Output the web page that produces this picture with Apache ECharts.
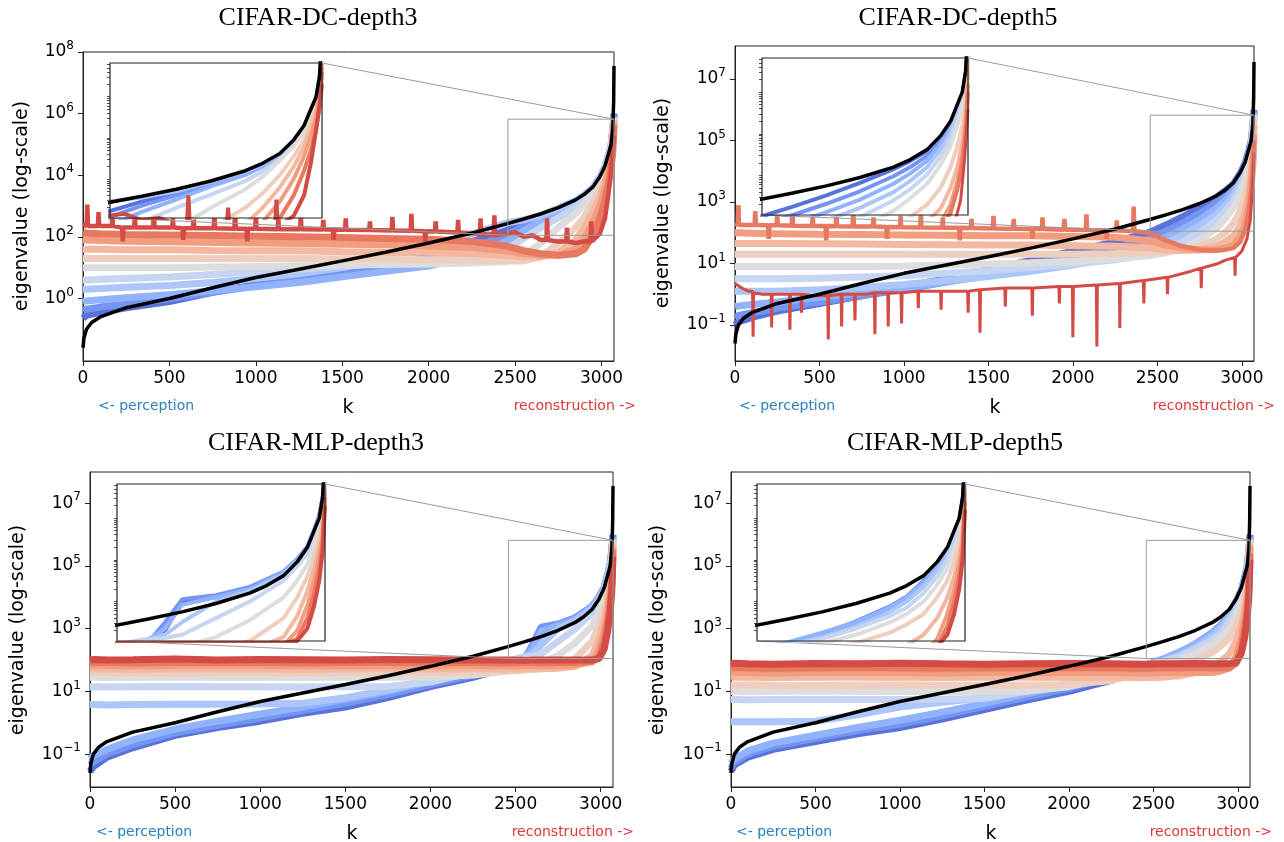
<!DOCTYPE html>
<html>
<head>
<meta charset="utf-8">
<script src="https://cdn.jsdelivr.net/npm/echarts@6/dist/echarts.min.js"></script>
<style>
  html, body { margin: 0; padding: 0; background: #fff; }
  #chart { width: 1284px; height: 842px; }
</style>
</head>
<body>
<div id="chart"></div>
<script>
// y values are log10(eigenvalue)
const titles = ['CIFAR-DC-depth3', 'CIFAR-DC-depth5', 'CIFAR-MLP-depth3', 'CIFAR-MLP-depth5'];
const xTicks = [0, 500, 1000, 1500, 2000, 2500, 3000];
const yTicksEven = [0, 2, 4, 6, 8];
const yTicksOdd = [-1, 1, 3, 5, 7];
// coolwarm, blue (early) -> red (late)
const curveColors = ['#5a72dc', '#7495f2', '#91b2fc', '#acc6f9', '#c6d5f1', '#dddddd',
                     '#eecebe', '#f3b89f', '#f39d7f', '#e77960', '#d44b45'];

const blackK   = [0, 5, 20, 50, 100, 250, 500, 750, 1000, 1250, 1500, 1750, 2000, 2250, 2450, 2550, 2650, 2750, 2850, 2900, 2950, 2990, 3020, 3040, 3055, 3065, 3070, 3072];
const blackLog = [-1.6, -1.3, -1.0, -0.78, -0.6, -0.3, 0.0, 0.35, 0.68, 0.95, 1.22, 1.5, 1.8, 2.12, 2.42, 2.58, 2.75, 2.95, 3.2, 3.38, 3.62, 3.95, 4.3, 4.7, 5.0, 5.5, 6.4, 7.55];

const kGrid     = [0, 20, 100, 250, 500, 750, 1000, 1250, 1500, 1750, 2000, 2250, 2450, 2550, 2650, 2750, 2850, 2900, 2950, 2990, 3020, 3040, 3055, 3065, 3072];
const kGridMlp3 = [0, 20, 100, 250, 500, 750, 1000, 1250, 1500, 1750, 2000, 2250, 2450, 2550, 2600, 2650, 2750, 2850, 2950, 2990, 3020, 3040, 3055, 3065, 3072];

const dc3Log = [
  [-0.65, -0.55, -0.45, -0.3, -0.1, 0.2, 0.45, 0.7, 0.95, 1.2, 1.5, 1.85, 2.2, 2.45, 2.65, 2.9, 3.15, 3.35, 3.58, 3.92, 4.27, 4.65, 4.95, 5.45, 6.0],
  [-0.4, -0.35, -0.28, -0.18, 0.0, 0.2, 0.4, 0.6, 0.8, 1.05, 1.3, 1.65, 2.05, 2.35, 2.6, 2.87, 3.13, 3.33, 3.57, 3.9, 4.25, 4.63, 4.95, 5.45, 5.95],
  [-0.1, -0.08, -0.04, 0.02, 0.12, 0.25, 0.38, 0.52, 0.7, 0.88, 1.05, 1.4, 1.85, 2.2, 2.5, 2.82, 3.1, 3.3, 3.55, 3.88, 4.22, 4.6, 4.93, 5.42, 5.9],
  [0.3, 0.3, 0.32, 0.36, 0.42, 0.52, 0.65, 0.8, 1.0, 1.25, 1.6, 2.1, 2.45, 2.55, 2.7, 2.93, 3.18, 3.36, 3.6, 3.93, 4.28, 4.66, 4.97, 5.48, 5.9],
  [0.6, 0.6, 0.62, 0.65, 0.7, 0.78, 0.86, 0.95, 1.05, 1.15, 1.25, 1.4, 1.6, 1.95, 2.3, 2.62, 2.95, 3.18, 3.48, 3.85, 4.2, 4.58, 4.92, 5.4, 5.85],
  [1.0, 1.0, 1.0, 1.0, 1.0, 1.02, 1.04, 1.06, 1.08, 1.1, 1.12, 1.15, 1.2, 1.4, 1.8, 2.3, 2.75, 3.05, 3.45, 3.8, 4.15, 4.53, 4.88, 5.35, 5.85],
  [1.3, 1.3, 1.3, 1.3, 1.3, 1.3, 1.3, 1.3, 1.28, 1.28, 1.26, 1.25, 1.22, 1.22, 1.35, 1.8, 2.3, 2.65, 3.1, 3.55, 3.95, 4.4, 4.8, 5.25, 5.8],
  [1.6, 1.6, 1.6, 1.58, 1.58, 1.56, 1.55, 1.55, 1.52, 1.5, 1.5, 1.46, 1.4, 1.35, 1.35, 1.5, 1.9, 2.3, 2.8, 3.3, 3.78, 4.25, 4.65, 5.15, 5.8],
  [1.9, 1.9, 1.88, 1.86, 1.84, 1.82, 1.8, 1.78, 1.76, 1.74, 1.7, 1.65, 1.55, 1.45, 1.4, 1.4, 1.6, 1.95, 2.45, 3.0, 3.55, 4.05, 4.5, 5.0, 5.7],
  [2.15, 2.12, 2.1, 2.08, 2.06, 2.04, 2.02, 2.0, 1.98, 1.95, 1.92, 1.85, 1.7, 1.55, 1.45, 1.4, 1.45, 1.6, 2.05, 2.6, 3.2, 3.7, 4.2, 4.75, 5.6]
];
// top (darkest red) run of DC-depth3: a band with narrow spikes
const dc3RedK = [0,
  21, 25, 29, 86, 90, 94, 166, 170, 174, 226, 230, 234, 296, 300, 304, 406, 410, 414, 516, 520, 524,
  576, 580, 584, 636, 640, 644, 756, 760, 764, 876, 880, 884, 946, 950, 954, 996, 1000, 1004,
  1126, 1130, 1134, 1256, 1260, 1264, 1386, 1390, 1394, 1446, 1450, 1454, 1516, 1520, 1524,
  1656, 1660, 1664, 1786, 1790, 1794, 1896, 1900, 1904, 1976, 1980, 1984, 2036, 2040, 2044,
  2166, 2170, 2174, 2296, 2300, 2304, 2376, 2380, 2384,
  2450, 2500, 2550, 2600, 2650, 2681, 2685, 2689, 2750, 2796, 2800, 2804, 2850, 2900, 2936, 2940, 2944,
  2990, 3020, 3040, 3055, 3065, 3072];
const dc3RedLog = [2.4,
  2.35, 3.05, 2.35, 2.35, 2.8, 2.35, 2.35, 2.65, 2.35, 2.3, 1.85, 2.3, 2.3, 2.75, 2.3, 2.3, 2.85, 2.3, 2.3, 2.6, 2.3,
  2.28, 1.9, 2.28, 2.28, 2.7, 2.28, 2.28, 2.75, 2.28, 2.26, 2.9, 2.26, 2.26, 1.85, 2.26, 2.26, 2.8, 2.26,
  2.25, 2.6, 2.25, 2.25, 2.7, 2.25, 2.24, 2.55, 2.24, 2.24, 1.9, 2.24, 2.23, 2.6, 2.23,
  2.22, 2.5, 2.22, 2.21, 2.65, 2.21, 2.2, 2.75, 2.2, 2.18, 1.85, 2.18, 2.17, 2.5, 2.17,
  2.14, 2.55, 2.14, 2.1, 2.6, 2.1, 2.05, 2.7, 2.05,
  2.1, 2.15, 2.0, 2.05, 1.9, 1.9, 2.6, 1.9, 1.85, 1.85, 2.3, 1.85, 1.8, 1.85, 1.85, 2.5, 1.85,
  2.1, 2.6, 3.4, 4.2, 4.8, 5.3];

const dc5Log = [
  [-1.0, -0.9, -0.75, -0.55, -0.3, -0.05, 0.25, 0.5, 0.8, 1.1, 1.4, 1.7, 2.0, 2.25, 2.52, 2.82, 3.15, 3.35, 3.58, 3.92, 4.27, 4.65, 4.95, 5.45, 6.0],
  [-0.75, -0.7, -0.6, -0.45, -0.25, -0.05, 0.15, 0.4, 0.65, 0.9, 1.2, 1.5, 1.8, 2.05, 2.32, 2.62, 2.98, 3.2, 3.47, 3.85, 4.2, 4.6, 4.93, 5.42, 5.95],
  [-0.4, -0.38, -0.33, -0.25, -0.1, 0.05, 0.2, 0.4, 0.6, 0.82, 1.05, 1.35, 1.62, 1.85, 2.12, 2.42, 2.8, 3.05, 3.35, 3.75, 4.12, 4.55, 4.9, 5.4, 5.9],
  [0.1, 0.1, 0.1, 0.1, 0.15, 0.22, 0.32, 0.45, 0.58, 0.75, 0.95, 1.2, 1.45, 1.65, 1.92, 2.22, 2.6, 2.87, 3.2, 3.62, 4.02, 4.47, 4.85, 5.35, 5.85],
  [0.5, 0.5, 0.5, 0.5, 0.52, 0.56, 0.6, 0.68, 0.76, 0.86, 0.98, 1.12, 1.3, 1.45, 1.7, 2.0, 2.4, 2.67, 3.02, 3.45, 3.88, 4.35, 4.75, 5.25, 5.85],
  [0.9, 0.9, 0.9, 0.9, 0.9, 0.9, 0.92, 0.95, 0.98, 1.02, 1.07, 1.15, 1.25, 1.35, 1.5, 1.75, 2.15, 2.45, 2.8, 3.25, 3.7, 4.2, 4.62, 5.15, 5.8],
  [1.3, 1.3, 1.3, 1.3, 1.3, 1.3, 1.3, 1.3, 1.3, 1.3, 1.3, 1.32, 1.35, 1.38, 1.45, 1.55, 1.8, 2.0, 2.3, 2.7, 3.2, 3.7, 4.2, 4.8, 5.7],
  [1.65, 1.65, 1.65, 1.65, 1.64, 1.63, 1.62, 1.61, 1.6, 1.6, 1.58, 1.56, 1.5, 1.45, 1.42, 1.45, 1.55, 1.7, 1.9, 2.2, 2.7, 3.2, 3.8, 4.45, 5.5],
  [2.0, 2.0, 1.98, 1.97, 1.95, 1.94, 1.93, 1.92, 1.9, 1.9, 1.88, 1.85, 1.75, 1.6, 1.5, 1.45, 1.45, 1.5, 1.6, 1.85, 2.3, 2.85, 3.5, 4.2, 5.2]
];
// noisy top band of DC-depth5
const dc5TopK = [0,
  16, 20, 24, 116, 120, 124, 196, 200, 204, 246, 250, 254, 336, 340, 344, 456, 460, 464, 536, 540, 544,
  596, 600, 604, 696, 700, 704, 816, 820, 824, 896, 900, 904, 976, 980, 984, 1096, 1100, 1104,
  1226, 1230, 1234, 1326, 1330, 1334, 1396, 1400, 1404, 1526, 1530, 1534, 1646, 1650, 1654,
  1756, 1760, 1764, 1816, 1820, 1824, 1946, 1950, 1954, 2076, 2080, 2084, 2196, 2200, 2204,
  2256, 2260, 2264, 2356, 2360, 2364,
  2450, 2550, 2650, 2750, 2850, 2900, 2950, 2990, 3020, 3040, 3055, 3065, 3072];
const dc5TopLog = [2.3,
  2.25, 2.9, 2.25, 2.25, 2.7, 2.25, 2.24, 1.8, 2.24, 2.24, 2.6, 2.24, 2.23, 2.75, 2.23, 2.22, 2.55, 2.22, 2.22, 1.75, 2.22,
  2.21, 2.65, 2.21, 2.2, 2.75, 2.2, 2.2, 2.5, 2.2, 2.19, 1.8, 2.19, 2.18, 2.55, 2.18, 2.17, 2.6, 2.17,
  2.16, 2.5, 2.16, 2.16, 1.75, 2.16, 2.15, 2.45, 2.15, 2.14, 2.55, 2.14, 2.13, 2.45, 2.13,
  2.12, 1.8, 2.12, 2.12, 2.5, 2.12, 2.1, 2.45, 2.1, 2.09, 2.6, 2.09, 2.08, 1.8, 2.08,
  2.07, 2.4, 2.07, 2.05, 2.85, 2.05,
  2.0, 1.75, 1.55, 1.45, 1.42, 1.45, 1.5, 1.7, 2.1, 2.65, 3.3, 4.0, 5.0];
// darkest red run of DC-depth5 sits low, with deep downward spikes
const dc5RedK = [0, 40, 80, 104, 107, 110, 160, 214, 217, 220, 280, 322, 325, 328, 391, 394, 397, 460, 549, 552, 555, 628, 631, 634, 707, 710, 713, 780, 825, 828, 831, 904, 907, 910, 983, 986, 989, 1082, 1085, 1088, 1217, 1220, 1223, 1377, 1380, 1383, 1447, 1450, 1453, 1597, 1600, 1603, 1757, 1760, 1763, 1917, 1920, 1923, 1997, 2000, 2003, 2139, 2142, 2145, 2275, 2278, 2281, 2417, 2420, 2423, 2557, 2560, 2563, 2700, 2757, 2760, 2763, 2860, 2900, 2957, 2960, 2963, 3000, 3030, 3050, 3062, 3072];
const dc5RedLog = [0.35, 0.2, 0.1, 0.1, -1.38, 0.05, 0.0, 0.0, -1.08, 0.0, 0.0, 0.0, -1.15, 0.0, 0.0, -0.6, 0.0, -0.05, -0.05, -1.47, -0.05, 0.0, -1.05, 0.0, 0.0, -0.85, 0.0, 0.0, 0.05, -1.3, 0.05, 0.05, -1.05, 0.05, 0.05, -0.95, 0.05, 0.1, -0.45, 0.1, 0.1, -0.5, 0.1, 0.1, -0.6, 0.1, 0.15, -1.25, 0.15, 0.2, -0.4, 0.2, 0.2, -0.7, 0.2, 0.25, -0.3, 0.25, 0.25, -1.4, 0.25, 0.3, -1.7, 0.3, 0.35, -1.1, 0.35, 0.45, -0.3, 0.45, 0.55, 0.0, 0.55, 0.75, 0.85, 0.2, 0.85, 1.0, 1.1, 1.2, 0.6, 1.2, 1.4, 1.8, 2.4, 3.4, 4.6];

const mlp3Log = [
  [-1.55, -1.4, -1.1, -0.8, -0.4, -0.15, 0.05, 0.3, 0.5, 0.8, 1.15, 1.45, 1.75, 1.95, 2.3, 3.0, 3.1, 3.3, 3.7, 4.0, 4.3, 4.7, 5.05, 5.5, 6.0],
  [-1.35, -1.25, -1.0, -0.7, -0.32, -0.08, 0.15, 0.4, 0.62, 0.9, 1.22, 1.52, 1.82, 2.02, 2.5, 3.05, 3.15, 3.35, 3.72, 4.02, 4.32, 4.72, 5.05, 5.5, 5.95],
  [-1.15, -1.05, -0.85, -0.55, -0.2, 0.05, 0.28, 0.5, 0.75, 1.0, 1.32, 1.62, 1.9, 2.08, 2.35, 2.92, 3.1, 3.3, 3.7, 4.0, 4.3, 4.7, 5.0, 5.45, 5.9],
  [0.58, 0.58, 0.57, 0.58, 0.59, 0.59, 0.6, 0.62, 0.8, 1.05, 1.38, 1.7, 1.96, 2.1, 2.2, 2.5, 3.0, 3.25, 3.65, 3.95, 4.25, 4.65, 5.0, 5.4, 5.85],
  [1.15, 1.15, 1.14, 1.15, 1.16, 1.15, 1.15, 1.14, 1.15, 1.16, 1.3, 1.62, 1.95, 2.08, 2.12, 2.2, 2.6, 3.0, 3.5, 3.85, 4.15, 4.55, 4.9, 5.3, 5.85],
  [1.45, 1.45, 1.44, 1.45, 1.46, 1.45, 1.45, 1.44, 1.45, 1.45, 1.46, 1.52, 1.65, 1.8, 1.85, 1.9, 2.15, 2.55, 3.1, 3.5, 3.9, 4.35, 4.75, 5.2, 5.8],
  [1.6, 1.6, 1.61, 1.6, 1.59, 1.6, 1.61, 1.6, 1.6, 1.59, 1.6, 1.61, 1.64, 1.68, 1.7, 1.72, 1.82, 2.05, 2.6, 3.1, 3.6, 4.1, 4.55, 5.0, 5.8],
  [1.72, 1.73, 1.72, 1.71, 1.72, 1.73, 1.72, 1.71, 1.72, 1.72, 1.73, 1.72, 1.71, 1.72, 1.72, 1.72, 1.74, 1.8, 2.15, 2.65, 3.25, 3.8, 4.3, 4.8, 5.7],
  [1.82, 1.83, 1.82, 1.81, 1.82, 1.83, 1.82, 1.82, 1.81, 1.82, 1.83, 1.82, 1.81, 1.82, 1.82, 1.82, 1.82, 1.84, 1.95, 2.3, 2.9, 3.5, 4.1, 4.6, 5.6],
  [1.92, 1.93, 1.92, 1.91, 1.92, 1.93, 1.92, 1.91, 1.92, 1.92, 1.93, 1.92, 1.91, 1.92, 1.92, 1.91, 1.92, 1.92, 1.95, 2.1, 2.6, 3.2, 3.8, 4.4, 5.5],
  [2.0, 2.02, 2.0, 2.01, 2.03, 2.0, 2.02, 2.01, 2.0, 2.02, 2.01, 2.0, 2.0, 1.99, 2.0, 2.0, 2.0, 2.0, 2.0, 2.05, 2.35, 2.9, 3.5, 4.2, 5.3]
];

const mlp5Log = [
  [-1.55, -1.35, -1.1, -0.85, -0.6, -0.35, -0.15, 0.12, 0.42, 0.72, 1.0, 1.35, 1.7, 1.9, 2.15, 2.45, 2.8, 3.05, 3.45, 3.85, 4.2, 4.6, 4.95, 5.45, 6.0],
  [-1.45, -1.25, -1.0, -0.75, -0.5, -0.25, -0.05, 0.22, 0.52, 0.82, 1.1, 1.45, 1.78, 1.98, 2.22, 2.52, 2.88, 3.12, 3.5, 3.88, 4.22, 4.62, 4.95, 5.45, 5.95],
  [-1.3, -1.15, -0.9, -0.65, -0.4, -0.15, 0.08, 0.34, 0.62, 0.92, 1.2, 1.5, 1.84, 2.02, 2.25, 2.5, 2.85, 3.1, 3.45, 3.85, 4.2, 4.6, 4.95, 5.42, 5.9],
  [0.03, 0.03, 0.03, 0.03, 0.05, 0.25, 0.5, 0.65, 0.8, 1.0, 1.25, 1.52, 1.8, 1.95, 2.15, 2.4, 2.75, 3.0, 3.35, 3.75, 4.1, 4.5, 4.9, 5.35, 5.85],
  [0.74, 0.74, 0.73, 0.74, 0.75, 0.74, 0.74, 0.75, 0.78, 1.0, 1.25, 1.55, 1.8, 1.95, 2.1, 2.35, 2.65, 2.85, 3.2, 3.6, 4.0, 4.4, 4.8, 5.25, 5.85],
  [1.0, 1.0, 0.99, 1.0, 1.01, 1.0, 1.0, 0.99, 1.0, 1.01, 1.15, 1.45, 1.7, 1.85, 2.0, 2.2, 2.5, 2.7, 3.0, 3.4, 3.8, 4.2, 4.6, 5.1, 5.8],
  [1.2, 1.2, 1.21, 1.2, 1.19, 1.2, 1.21, 1.2, 1.2, 1.2, 1.22, 1.35, 1.6, 1.7, 1.85, 2.0, 2.25, 2.45, 2.7, 3.1, 3.5, 3.95, 4.4, 4.9, 5.8],
  [1.45, 1.46, 1.45, 1.44, 1.45, 1.46, 1.45, 1.44, 1.45, 1.45, 1.46, 1.45, 1.44, 1.45, 1.5, 1.6, 1.8, 1.95, 2.2, 2.6, 3.1, 3.6, 4.1, 4.6, 5.7],
  [1.6, 1.61, 1.6, 1.59, 1.6, 1.61, 1.6, 1.59, 1.6, 1.6, 1.61, 1.6, 1.59, 1.6, 1.6, 1.61, 1.6, 1.65, 1.75, 2.1, 2.7, 3.3, 3.9, 4.4, 5.6],
  [1.75, 1.76, 1.75, 1.74, 1.75, 1.76, 1.75, 1.74, 1.75, 1.75, 1.76, 1.75, 1.74, 1.75, 1.75, 1.76, 1.75, 1.75, 1.75, 1.9, 2.4, 3.0, 3.6, 4.2, 5.4],
  [1.88, 1.9, 1.88, 1.87, 1.89, 1.88, 1.9, 1.88, 1.87, 1.88, 1.89, 1.88, 1.87, 1.88, 1.88, 1.89, 1.88, 1.88, 1.88, 1.92, 2.2, 2.7, 3.3, 4.0, 5.2]
];

// zoomed region shown in each inset: k range and log10 range
const zoomK = [2458, 3072];
const zoomLog = [2.05, 5.82];

// ---- layout (pixels) ----
const layout = [
  { main: [83, 52, 614, 361],   inset: [110, 63, 322, 218], yRange: [-2.03, 8.0],  yTicks: yTicksEven, title: [318, 18],  ylab: [22, 206],  klab: [348, 408], perc: [98, 406],  recon: [636, 406] },
  { main: [735, 46, 1254, 361], inset: [762, 58, 968, 215], yRange: [-2.17, 8.07], yTicks: yTicksOdd,  title: [958, 18],  ylab: [663, 203], klab: [995, 408], perc: [739, 406], recon: [1275, 406] },
  { main: [90, 472, 613, 787],  inset: [117, 484, 325, 641], yRange: [-2.05, 8.0], yTicks: yTicksOdd,  title: [316, 443], ylab: [18, 630],  klab: [352, 834], perc: [96, 832],  recon: [634, 832] },
  { main: [731, 472, 1250, 787], inset: [757, 484, 965, 641], yRange: [-2.05, 8.0], yTicks: yTicksOdd, title: [955, 443], ylab: [658, 630], klab: [991, 834], perc: [736, 832], recon: [1272, 832] }
];

function onGrid(ks, list) { return list.map(v => ({ k: ks, v, w: 7 })); }
const panelCurves = [
  onGrid(kGrid, dc3Log).concat([{ k: dc3RedK, v: dc3RedLog, w: 4.5 }]),
  onGrid(kGrid, dc5Log).concat([{ k: dc5TopK, v: dc5TopLog, w: 4.5 }, { k: dc5RedK, v: dc5RedLog, w: 3 }]),
  onGrid(kGridMlp3, mlp3Log),
  onGrid(kGrid, mlp5Log)
];

const FONT = 'DejaVu Sans';
const insetTicks = [];
for (let n = 2; n <= 5; n++) for (let m = 1; m <= 9; m++) {
  const t = n + Math.log10(m);
  if (t >= zoomLog[0] && t <= zoomLog[1]) insetTicks.push(t);
}

function pairs(ks, vs) { return ks.map((k, j) => [k, vs[j]]); }
function expLabel(v) {
  const e = v < 0 ? '\u2212' + (-v) : String(v);
  return '{b|10}{s|' + e + '}';
}

const grids = [], xAxes = [], yAxes = [], series = [];
layout.forEach((L, p) => {
  const [l, t, r, b] = L.main;
  const [il, it, ir, ib] = L.inset;
  grids.push({ left: l, top: t, width: r - l, height: b - t, show: true, borderColor: '#222', borderWidth: 1, backgroundColor: 'transparent' });
  grids.push({ left: il, top: it, width: ir - il, height: ib - it, show: false });

  xAxes.push({
    gridIndex: 2 * p, type: 'value', min: 0, max: 3072,
    axisLine: { show: true, onZero: false, lineStyle: { color: '#222', width: 1 } },
    axisTick: { show: true, length: 5, customValues: xTicks, lineStyle: { color: '#222' } },
    axisLabel: { customValues: xTicks, fontSize: 17, fontFamily: FONT, color: '#000', margin: 9, formatter: v => String(v) },
    splitLine: { show: false }
  });
  xAxes.push({
    gridIndex: 2 * p + 1, type: 'value', min: zoomK[0], max: zoomK[1],
    axisLine: { show: false }, axisTick: { show: false }, axisLabel: { show: false }, splitLine: { show: false }
  });
  yAxes.push({
    gridIndex: 2 * p, type: 'value', min: L.yRange[0], max: L.yRange[1],
    axisLine: { show: true, onZero: false, lineStyle: { color: '#222', width: 1 } },
    axisTick: { show: true, length: 5, customValues: L.yTicks, lineStyle: { color: '#222' } },
    axisLabel: {
      customValues: L.yTicks, margin: 9, formatter: expLabel,
      rich: {
        b: { fontSize: 17, fontFamily: FONT, color: '#000', lineHeight: 24 },
        s: { fontSize: 12, fontFamily: FONT, color: '#000', verticalAlign: 'top', lineHeight: 12 }
      }
    },
    splitLine: { show: false }
  });
  yAxes.push({
    gridIndex: 2 * p + 1, type: 'value', min: zoomLog[0], max: zoomLog[1],
    axisLine: { show: false },
    axisTick: { show: true, length: 3, customValues: insetTicks, lineStyle: { color: '#222', width: 0.8 } },
    axisLabel: { show: false }, splitLine: { show: false }
  });

  panelCurves[p].forEach((c, i) => {
    const data = pairs(c.k, c.v);
    const color = curveColors[i];
    series.push({ type: 'line', xAxisIndex: 2 * p, yAxisIndex: 2 * p, data, symbol: 'none', silent: true,
      lineStyle: { color, width: c.w }, z: 2 });
    series.push({ type: 'line', xAxisIndex: 2 * p + 1, yAxisIndex: 2 * p + 1, data, symbol: 'none', silent: true,
      lineStyle: { color, width: Math.min(c.w, 4) }, z: 10 });
  });
  const bdata = pairs(blackK, blackLog);
  series.push({ type: 'line', xAxisIndex: 2 * p, yAxisIndex: 2 * p, data: bdata, symbol: 'none', silent: true,
    lineStyle: { color: '#000', width: 3.5 }, z: 3 });
  series.push({ type: 'line', xAxisIndex: 2 * p + 1, yAxisIndex: 2 * p + 1, data: bdata, symbol: 'none', silent: true,
    lineStyle: { color: '#000', width: 3.5 }, z: 11 });
});

const chart = echarts.init(document.getElementById('chart'), null, { renderer: 'canvas' });
chart.setOption({
  animation: false,
  backgroundColor: '#fff',
  grid: grids, xAxis: xAxes, yAxis: yAxes, series
});

// annotations: titles, axis names, inset frame, zoom rectangle and connectors
const graphics = [];
layout.forEach((L, p) => {
  const [il, it, ir, ib] = L.inset;
  graphics.push({ type: 'text', x: L.title[0], y: L.title[1], z: 20,
    style: { text: titles[p], font: '26px "Liberation Serif"', fill: '#000', textAlign: 'center', verticalAlign: 'middle' } });
  graphics.push({ type: 'text', x: L.ylab[0], y: L.ylab[1], rotation: Math.PI / 2, z: 20,
    style: { text: 'eigenvalue (log-scale)', font: '19px "DejaVu Sans"', fill: '#000', textAlign: 'center', verticalAlign: 'middle' } });
  graphics.push({ type: 'text', x: L.klab[0], y: L.klab[1], z: 20,
    style: { text: 'k', font: '19px "DejaVu Sans"', fill: '#000', textAlign: 'center', verticalAlign: 'middle' } });
  graphics.push({ type: 'text', x: L.perc[0], y: L.perc[1], z: 20,
    style: { text: '<- perception', font: '14px "DejaVu Sans"', fill: '#2a7fc0', textAlign: 'left', verticalAlign: 'middle' } });
  graphics.push({ type: 'text', x: L.recon[0], y: L.recon[1], z: 20,
    style: { text: 'reconstruction ->', font: '14px "DejaVu Sans"', fill: '#e03535', textAlign: 'right', verticalAlign: 'middle' } });

  const tr = chart.convertToPixel({ gridIndex: 2 * p }, [zoomK[1], zoomLog[1]]);
  const bl = chart.convertToPixel({ gridIndex: 2 * p }, [zoomK[0], zoomLog[0]]);
  graphics.push({ type: 'rect', z: 6, silent: true,
    shape: { x: bl[0], y: tr[1], width: tr[0] - bl[0], height: bl[1] - tr[1] },
    style: { fill: 'none', stroke: '#9a9a9a', lineWidth: 1 } });
  graphics.push({ type: 'line', z: 6, silent: true, shape: { x1: ir, y1: it, x2: tr[0], y2: tr[1] },
    style: { stroke: '#9a9a9a', lineWidth: 1 } });
  graphics.push({ type: 'line', z: 6, silent: true, shape: { x1: il, y1: ib, x2: bl[0], y2: bl[1] },
    style: { stroke: '#9a9a9a', lineWidth: 1 } });
  graphics.push({ type: 'rect', z: 7, silent: true,
    shape: { x: il, y: it, width: ir - il, height: ib - it }, style: { fill: '#fff', stroke: null } });
  graphics.push({ type: 'rect', z: 15, silent: true,
    shape: { x: il, y: it, width: ir - il, height: ib - it }, style: { fill: 'none', stroke: '#222', lineWidth: 1.2 } });
});
chart.setOption({ graphic: graphics });
</script>
</body>
</html>
